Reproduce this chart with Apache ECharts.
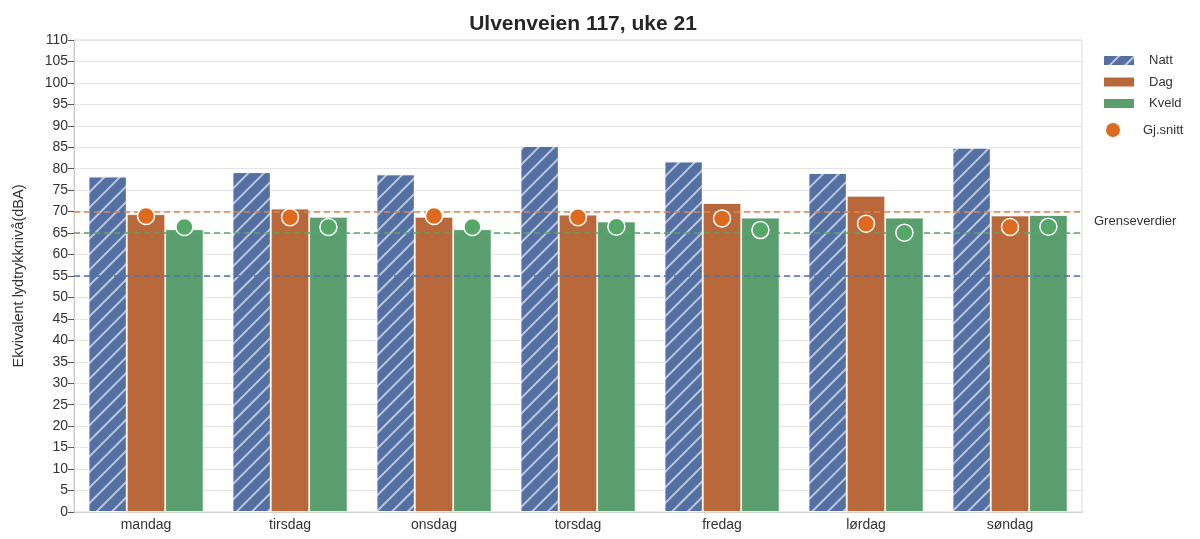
<!DOCTYPE html>
<html>
<head>
<meta charset="utf-8">
<script src="https://cdn.jsdelivr.net/npm/echarts@6/dist/echarts.min.js"></script>
<style>
html,body{margin:0;padding:0;background:#fff;}
#chart{width:1200px;height:539px;}
</style>
</head>
<body>
<div id="chart"></div>
<script>
const days = ['mandag','tirsdag','onsdag','torsdag','fredag','lørdag','søndag'];
const natt  = [78.2, 79.2, 78.7, 85.3, 81.7, 79.0, 84.9];
const dag   = [69.4, 70.7, 68.8, 69.3, 72.0, 73.7, 69.1];
const kveld = [65.9, 68.8, 65.9, 67.7, 68.6, 68.6, 69.2];
const snittDag   = [69.0, 68.7, 69.0, 68.7, 68.4, 67.2, 66.4];
const snittKveld = [66.4, 66.4, 66.4, 66.5, 65.7, 65.1, 66.5];
const limits = [
  {value: 70, color: '#dd8452'},
  {value: 65, color: '#55a868'},
  {value: 55, color: '#4c72b0'}
];
const yTicks = {min: 0, max: 110, interval: 5};

const font = '"Liberation Sans", Arial, sans-serif';
const nBars = 3, groupFrac = 0.8;
const barW = groupFrac / nBars;
// scatter x positions in category units (category i spans [i, i+1])
const dagPts = snittDag.map((v, i) => [i + 0.5, v]);
const kveldPts = snittKveld.map((v, i) => [i + 0.5 + barW, v]);

const hatch = {
  symbol: 'rect', symbolSize: 1, dashArrayX: [1, 0], dashArrayY: [1.6, 8.6],
  rotation: -Math.PI / 4, color: 'rgba(255,255,255,0.6)'
};

const chart = echarts.init(document.getElementById('chart'), null, {renderer: 'canvas'});
chart.setOption({
  animation: false,
  backgroundColor: '#fff',
  title: {
    text: 'Ulvenveien 117, uke 21',
    left: 578, top: 9, textAlign: 'center',
    textStyle: {fontFamily: font, fontSize: 21, fontWeight: 'bold', color: '#262626'}
  },
  legend: [{
    orient: 'vertical',
    left: 1097, top: 49,
    itemWidth: 32, itemHeight: 11, itemGap: 8.5,
    textStyle: {fontFamily: font, fontSize: 13, color: '#333', padding: [0, 0, 0, 9]},
    data: [
      {name: 'Natt', icon: 'rect'},
      {name: 'Dag', icon: 'rect'},
      {name: 'Kveld', icon: 'rect'}
    ]
  }, {
    orient: 'vertical',
    left: 1099, top: 116,
    itemWidth: 32, itemHeight: 16,
    textStyle: {fontFamily: font, fontSize: 13, color: '#333', padding: [0, 0, 0, 9]},
    data: [{name: 'Gj.snitt', icon: 'circle'}]
  }],
  graphic: [{
    type: 'text', left: 1094, top: 215,
    style: {text: 'Grenseverdier', fontFamily: font, fontSize: 13, fill: '#333'}
  }],
  grid: {left: 74, right: 118, top: 40, bottom: 27, show: true, borderColor: '#d9d9d9', borderWidth: 1},
  xAxis: [{
    type: 'category', data: days,
    axisLine: {show: true, lineStyle: {color: '#d0d0d0'}},
    axisTick: {show: false},
    axisLabel: {fontFamily: font, fontSize: 14, color: '#333', margin: 6},
    splitLine: {show: false}
  }, {
    type: 'value', min: 0, max: days.length, show: false
  }],
  yAxis: {
    type: 'value', min: yTicks.min, max: yTicks.max, interval: yTicks.interval,
    name: 'Ekvivalent lydtrykknivå(dBA)', nameLocation: 'middle', nameGap: 48,
    nameTextStyle: {fontFamily: font, fontSize: 14.5, color: '#333'},
    axisLine: {show: true, lineStyle: {color: '#c8c8c8'}},
    axisTick: {show: true, length: 6, lineStyle: {color: '#555'}},
    axisLabel: {fontFamily: font, fontSize: 14, color: '#333', margin: 6},
    splitLine: {show: true, lineStyle: {color: '#e3e3e3', width: 1.2}}
  },
  series: [
    {
      name: 'Natt', type: 'bar', data: natt, barGap: '0%', barCategoryGap: '20%',
      itemStyle: {color: '#5470a3', borderColor: '#fff', borderWidth: 0.8, decal: hatch},
      markLine: {
        silent: true, symbol: 'none', label: {show: false},
        data: limits.map(l => ({yAxis: l.value, lineStyle: {color: l.color, type: [6, 4], width: 1.5}}))
      },
      z: 2
    },
    {
      name: 'Dag', type: 'bar', data: dag,
      itemStyle: {color: '#b8683a', borderColor: '#fff', borderWidth: 0.8}
    },
    {
      name: 'Kveld', type: 'bar', data: kveld,
      itemStyle: {color: '#5a9e6e', borderColor: '#fff', borderWidth: 0.8}
    },
    {
      name: 'Gj.snitt', type: 'scatter', xAxisIndex: 1, data: dagPts,
      symbolSize: 17, z: 5,
      itemStyle: {color: '#dd6a1e', borderColor: '#fff', borderWidth: 1.5, opacity: 1}
    },
    {
      name: 'Gj.snitt', type: 'scatter', xAxisIndex: 1, data: kveldPts,
      symbolSize: 17, z: 5,
      itemStyle: {color: '#55a868', borderColor: '#fff', borderWidth: 1.5, opacity: 1}
    }
  ]
});
</script>
</body>
</html>
